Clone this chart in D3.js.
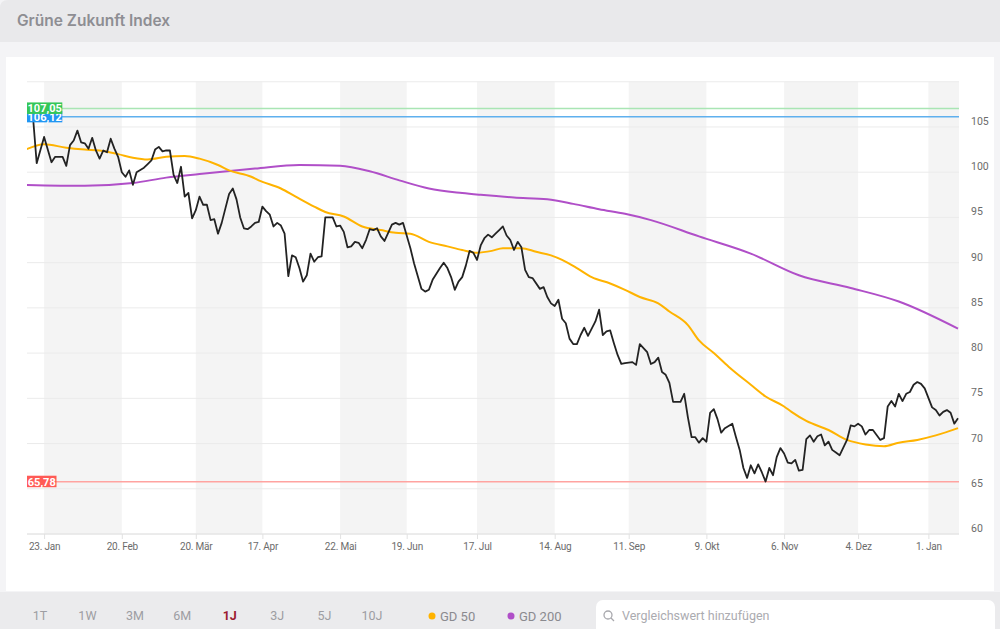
<!DOCTYPE html>
<html>
<head>
    <meta charset="utf-8">
    <script src="https://cdn.jsdelivr.net/npm/d3@7"></script>
    <title>Grüne Zukunft Index</title>
    <style>
        * {
            margin: 0;
            padding: 0;
        }

        body {
            background-color: #f4f4f6;
            font-family: Roboto, "Noto Sans", sans-serif;
        }

        #chart {
            display: block;
        }
    </style>
</head>
<body>

    <svg id="chart" width="1000" height="629"></svg>
    <script>
        // x = trading day index in the shown year
        var tickLabels = ["23. Jan", "20. Feb", "20. Mär", "17. Apr", "22. Mai", "19. Jun", "17. Jul",
            "14. Aug", "11. Sep", "9. Okt", "6. Nov", "4. Dez", "1. Jan"];
        var tickDays = [3, 24, 44, 62, 83, 101, 120, 141, 161, 182, 203, 223, 242];
        var yTicks = [60, 65, 70, 75, 80, 85, 90, 95, 100, 105];

        var price = [[0,106.1],[1,101.0],[3,103.9],[5,101.1],[6,101.7],[8,101.7],[9,100.7],[10,103.0],[11,103.5],
            [12,104.6],[13,103.3],[14,103.2],[15,102.6],[16,103.8],[17,102.4],[18,101.5],[19,102.4],[20,102.2],
            [21,103.7],[22,102.6],[23,101.7],[24,100.0],[25,99.5],[26,100.2],[27,98.6],[28,100.0],[30,100.5],
            [31,100.9],[32,101.3],[33,102.5],[34,102.8],[35,102.3],[36,102.4],[37,102.4],[38,99.7],[39,98.8],
            [40,100.6],[41,97.3],[42,97.7],[43,94.9],[44,95.8],[45,97.3],[46,96.4],[47,96.4],[48,94.7],[49,94.8],
            [50,93.2],[51,94.4],[52,96.0],[53,97.6],[54,98.2],[55,97.0],[56,95.0],[57,93.8],[58,93.7],[59,94.0],
            [60,94.4],[61,94.5],[62,96.2],[63,95.7],[64,95.3],[65,94.0],[66,94.4],[67,94.1],[68,93.2],[69,88.5],
            [70,90.8],[71,90.6],[72,89.4],[73,87.9],[74,88.6],[75,91.0],[76,90.1],[77,90.6],[78,90.7],[79,95.0],
            [81,95.0],[82,94.0],[83,94.1],[84,93.4],[85,91.7],[86,91.8],[87,92.3],[88,92.2],[89,91.6],[90,92.5],
            [91,93.7],[92,93.6],[93,93.8],[94,92.9],[95,92.4],[96,93.3],[97,94.2],[98,94.4],[99,94.2],[100,94.4],
            [102,91.6],[103,89.9],[105,87.1],[106,86.8],[107,87.0],[108,88.1],[110,89.4],[111,90.0],[112,89.4],
            [113,88.4],[114,87.0],[115,87.9],[116,88.4],[117,89.7],[118,91.3],[119,91.1],[120,90.3],[121,91.9],
            [122,92.7],[123,93.1],[124,92.8],[125,93.2],[126,93.6],[127,94.0],[128,93.0],[129,92.5],[130,91.4],
            [131,92.3],[132,91.7],[133,89.2],[134,88.4],[135,88.3],[137,87.1],[138,87.3],[139,86.2],[140,85.5],
            [141,85.2],[142,85.9],[143,83.8],[144,83.3],[145,81.6],[146,81.0],[147,81.0],[148,82.0],[149,82.8],
            [150,81.9],[151,82.7],[152,83.5],[153,84.8],[154,82.0],[155,82.4],[156,82.5],[157,81.1],[158,79.8],
            [159,78.8],[160,78.9],[162,79.0],[163,78.7],[164,81.0],[166,80.1],[167,78.8],[168,79.0],[169,79.5],
            [170,77.9],[171,77.6],[172,76.7],[173,74.6],[174,74.6],[175,74.6],[176,75.5],[177,72.9],[178,70.7],
            [179,70.7],[180,70.1],[181,70.6],[182,70.2],[183,73.4],[184,73.8],[185,72.7],[186,71.2],[187,71.7],
            [189,72.2],[190,70.7],[191,69.3],[192,67.3],[193,66.2],[194,67.6],[195,66.7],[196,67.7],[197,66.8],
            [198,65.8],[199,67.3],[200,66.5],[201,68.5],[202,69.5],[203,68.9],[204,67.9],[205,67.8],[206,68.2],
            [207,67.0],[208,67.1],[209,70.5],[210,70.9],[211,70.2],[212,70.8],[213,71.0],[214,69.8],[215,70.2],
            [216,69.3],[217,69.0],[218,68.7],[220,70.4],[221,72.0],[222,71.9],[223,72.2],[224,71.9],[225,71.0],
            [226,71.5],[227,71.5],[229,70.4],[230,70.6],[231,74.1],[232,74.7],[233,74.1],[234,75.5],[235,74.7],
            [236,75.5],[237,75.7],[238,76.5],[239,76.8],[240,76.6],[241,76.1],[243,74.0],[244,73.7],[245,73.1],
            [246,73.5],[247,73.7],[248,73.4],[249,72.2],[250,72.8]];

        var gd50 = [[-2,102.5],[3,103.1],[9,102.7],[14,102.5],[18,102.4],[23,102.0],[27,101.6],[31,101.4],
            [36,101.7],[41,101.8],[45,101.5],[50,100.8],[53,100.2],[59,99.5],[61,99.1],[67,98.2],[71,97.3],
            [76,96.2],[79,95.6],[84,95.1],[89,94.0],[94,93.6],[98,93.3],[102,93.2],[107,92.3],[112,91.8],
            [116,91.4],[120,91.1],[124,91.3],[127,91.6],[132,91.6],[136,91.2],[140,90.8],[143,90.3],[147,89.4],
            [151,88.4],[156,87.7],[160,87.0],[164,86.2],[169,85.5],[172,84.6],[177,83.1],[180,81.4],[184,80.0],
            [188,78.5],[194,76.5],[198,75.2],[203,74.1],[205,73.5],[209,72.5],[215,71.5],[220,70.4],[225,69.9],
            [230,69.7],[234,70.1],[239,70.4],[244,70.9],[250,71.7]];

        var gd200 = [[-2,98.6],[14,98.5],[27,98.8],[36,99.4],[45,99.8],[60,100.4],[72,100.8],[83,100.7],
            [91,100.1],[99,99.1],[107,98.2],[116,97.7],[121,97.5],[130,97.2],[139,97.0],[146,96.5],[153,95.9],
            [160,95.4],[167,94.7],[180,92.9],[194,91.0],[207,88.6],[221,87.2],[234,85.7],[250,82.7]];

        var flags = [
            { value: 106.12, label: "106,12", box: "#2196f3", line: "#5fb0ee" },
            { value: 107.05, label: "107,05", box: "#34c759", line: "#a9e5b4" },
            { value: 65.78, label: "65,78", box: "#ff5a55", line: "#ffa3a0" }
        ];

        var ranges = ["1T", "1W", "3M", "6M", "1J", "3J", "5J", "10J"];
        var activeRange = "1J";
        var legend = [{ name: "GD 50", color: "#ffb300" }, { name: "GD 200", color: "#b04fc8" }];

        var svg = d3.select("#chart");

        // frame
        svg.append("path")
            .attr("d", "M0,42 V8 Q0,0 8,0 H1000 V42 Z")
            .attr("fill", "#e9e9eb");
        svg.append("text")
            .attr("x", 17)
            .attr("y", 26)
            .attr("fill", "#8e8e93")
            .style("font-family", "Inter, Roboto, sans-serif")
            .style("font-size", "15.5px")
            .style("font-weight", 600)
            .text("Grüne Zukunft Index");
        svg.append("rect")
            .attr("x", 6).attr("y", 57)
            .attr("width", 988).attr("height", 534)
            .attr("fill", "#ffffff");

        var plotLeft = 27, plotRight = 959, plotTop = 81.75, plotBottom = 534;

        var x = d3.scaleLinear().domain([0, 250]).range([33, 958]);
        var y = d3.scaleLinear().domain([60, 110]).range([plotBottom, plotTop]);

        // alternate bands between ticks
        var bandEdges = tickDays.map(function (d) { return x(d); }).concat([plotRight]);
        var bands = [];
        for (var i = 0; i < bandEdges.length - 1; i += 2) {
            bands.push([bandEdges[i], bandEdges[i + 1]]);
        }
        svg.append("g").selectAll("rect")
            .data(bands)
            .enter()
            .append("rect")
            .attr("x", function (d) { return d[0]; })
            .attr("y", plotTop)
            .attr("width", function (d) { return d[1] - d[0]; })
            .attr("height", plotBottom - plotTop)
            .attr("fill", "#f4f4f4");

        // grid
        svg.append("g").selectAll("line")
            .data(yTicks.concat([110]))
            .enter()
            .append("line")
            .attr("x1", plotLeft).attr("x2", plotRight)
            .attr("y1", function (d) { return y(d); })
            .attr("y2", function (d) { return y(d); })
            .attr("stroke", "#ebebeb")
            .attr("stroke-width", 1);

        svg.append("line")
            .attr("x1", plotLeft).attr("x2", plotRight)
            .attr("y1", plotBottom).attr("y2", plotBottom)
            .attr("stroke", "#e2e2e2");

        // y labels on the right
        svg.append("g").selectAll("text")
            .data(yTicks)
            .enter()
            .append("text")
            .attr("x", 971)
            .attr("y", function (d) { return y(d) - 2; })
            .attr("fill", "#6b6b6b")
            .style("font-size", "10.5px")
            .text(function (d) { return d; });

        // x axis
        var xAxis = svg.append("g").attr("transform", "translate(0," + plotBottom + ")")
            .call(d3.axisBottom(x)
                .tickValues(tickDays)
                .tickFormat(function (d, i) { return tickLabels[i]; })
                .tickSize(5)
                .tickPadding(4));
        xAxis.select(".domain").remove();
        xAxis.selectAll(".tick line").attr("stroke", "#e2e2e2");
        xAxis.selectAll(".tick text")
            .attr("fill", "#6b6b6b")
            .style("font-family", "Roboto, sans-serif")
            .style("font-size", "10px")
            .style("letter-spacing", "-0.2px");

        // clip
        svg.append("clipPath").attr("id", "plotClip")
            .append("rect")
            .attr("x", plotLeft).attr("y", plotTop)
            .attr("width", plotRight - plotLeft).attr("height", plotBottom - plotTop);

        var plot = svg.append("g").attr("clip-path", "url(#plotClip)");

        // flag lines
        plot.selectAll(".flagLine")
            .data(flags)
            .enter()
            .append("line")
            .attr("class", "flagLine")
            .attr("x1", plotLeft).attr("x2", plotRight)
            .attr("y1", function (d) { return y(d.value); })
            .attr("y2", function (d) { return y(d.value); })
            .attr("stroke", function (d) { return d.line; })
            .attr("stroke-width", 1.5);

        var line = d3.line()
            .x(function (d) { return x(d[0]); })
            .y(function (d) { return y(d[1]); });

        var smooth = d3.line()
            .x(function (d) { return x(d[0]); })
            .y(function (d) { return y(d[1]); })
            .curve(d3.curveMonotoneX);

        plot.append("path")
            .datum(gd200)
            .attr("d", smooth)
            .attr("fill", "none")
            .attr("stroke", "#b04fc8")
            .attr("stroke-width", 2);

        plot.append("path")
            .datum(gd50)
            .attr("d", smooth)
            .attr("fill", "none")
            .attr("stroke", "#ffb300")
            .attr("stroke-width", 2);

        plot.append("path")
            .datum(price)
            .attr("d", line)
            .attr("fill", "none")
            .attr("stroke", "#232323")
            .attr("stroke-width", 1.8)
            .attr("stroke-linejoin", "round");

        // flag boxes
        var flag = svg.append("g").selectAll("g")
            .data(flags)
            .enter()
            .append("g")
            .attr("transform", function (d) { return "translate(" + plotLeft + "," + y(d.value) + ")"; });
        flag.append("rect")
            .attr("x", 0)
            .attr("y", -6)
            .attr("width", function (d) { return d.label.length * 5.8 + 0.5; })
            .attr("height", 11.5)
            .attr("fill", function (d) { return d.box; });
        flag.append("text")
            .attr("x", function (d) { return (d.label.length * 5.8 + 0.5) / 2; })
            .attr("y", 4)
            .attr("text-anchor", "middle")
            .attr("fill", "#ffffff")
            .style("font-size", "11px")
            .style("font-weight", "bold")
            .text(function (d) { return d.label; });

        // toolbar
        svg.append("rect")
            .attr("x", 0).attr("y", 592)
            .attr("width", 1000).attr("height", 37)
            .attr("fill", "#ebebed");

        var rx = d3.scalePoint().domain(ranges).range([40, 372]);
        svg.append("g").selectAll("text")
            .data(ranges)
            .enter()
            .append("text")
            .attr("x", function (d) { return rx(d); })
            .attr("y", 620)
            .attr("text-anchor", "middle")
            .attr("fill", function (d) { return d == activeRange ? "#9b1b30" : "#9d9da2"; })
            .style("font-size", "12.5px")
            .style("font-weight", function (d) { return d == activeRange ? "bold" : "normal"; })
            .text(function (d) { return d; });

        var lg = svg.append("g").selectAll("g")
            .data(legend)
            .enter()
            .append("g")
            .attr("transform", function (d, i) { return "translate(" + (432 + i * 79) + ",616)"; });
        lg.append("circle")
            .attr("r", 3.5)
            .attr("fill", function (d) { return d.color; });
        lg.append("text")
            .attr("x", 8)
            .attr("y", 4.5)
            .attr("fill", "#8a8a8f")
            .style("font-size", "13px")
            .text(function (d) { return d.name; });

        svg.append("rect")
            .attr("x", 596).attr("y", 600)
            .attr("width", 399).attr("height", 36)
            .attr("rx", 7)
            .attr("fill", "#ffffff");
        svg.append("circle")
            .attr("cx", 608).attr("cy", 615)
            .attr("r", 4)
            .attr("fill", "none")
            .attr("stroke", "#a8a8ad")
            .attr("stroke-width", 1.3);
        svg.append("line")
            .attr("x1", 611).attr("y1", 618)
            .attr("x2", 614).attr("y2", 621)
            .attr("stroke", "#a8a8ad")
            .attr("stroke-width", 1.3);
        svg.append("text")
            .attr("x", 622)
            .attr("y", 620)
            .attr("fill", "#ababb0")
            .style("font-size", "12.5px")
            .text("Vergleichswert hinzufügen");
    </script>
</body>
</html>
